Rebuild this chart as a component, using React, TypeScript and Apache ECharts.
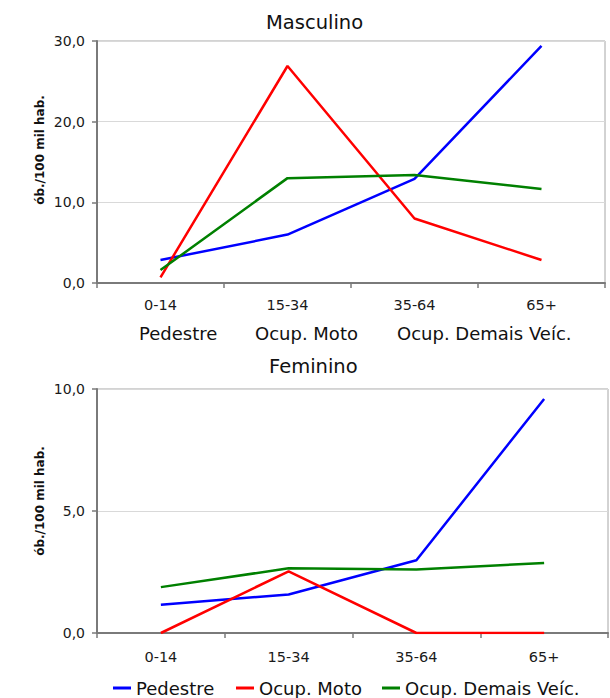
import React, { useEffect, useRef } from "react";
import * as echarts from "echarts";

const categories = ["0-14", "15-34", "35-64", "65+"];
const seriesNames = ["Pedestre", "Ocup. Moto", "Ocup. Demais Veíc."];
const seriesColors = ["#0000ff", "#ff0000", "#008000"];

const malePedestre = [2.85, 6.0, 12.9, 29.4];
const maleMoto = [0.7, 26.9, 8.0, 2.85];
const maleDemais = [1.6, 13.0, 13.4, 11.65];

const femalePedestre = [1.16, 1.58, 2.98, 9.59];
const femaleMoto = [0, 2.53, 0, 0];
const femaleDemais = [1.88, 2.65, 2.6, 2.87];

const maleAxis = { min: 0, max: 30, interval: 10 };
const femaleAxis = { min: 0, max: 10, interval: 5 };

const titles = ["Masculino", "Feminino"];
const yAxisName = "ób./100 mil hab.";

const FONT = "DejaVu Sans";

export default function App() {
  const ref = useRef<HTMLDivElement>(null);

  useEffect(() => {
    if (!ref.current) return;
    const chart = echarts.init(ref.current, undefined, { renderer: "svg" });

    const fmt = (v: number) => v.toFixed(1).replace(".", ",");

    const xAxisBase = (gridIndex: number, margin: number) => ({
      type: "category" as const,
      gridIndex,
      data: categories,
      boundaryGap: true,
      axisLine: { show: true, lineStyle: { color: "#7a7a7a", width: 2 } },
      axisTick: { show: true, alignWithLabel: false, length: 5, lineStyle: { color: "#7a7a7a", width: 1.5 } },
      axisLabel: { margin, fontFamily: FONT, fontSize: 14.5, color: "#1a1a1a" },
      splitLine: { show: false },
    });

    const yAxisBase = (gridIndex: number, ax: { min: number; max: number; interval: number }) => ({
      type: "value" as const,
      gridIndex,
      min: ax.min,
      max: ax.max,
      interval: ax.interval,
      axisLine: { show: true, lineStyle: { color: "#7a7a7a", width: 2 } },
      axisTick: { show: true, length: 5, lineStyle: { color: "#7a7a7a", width: 1.5 } },
      axisLabel: { margin: 12, fontFamily: FONT, fontSize: 14, color: "#1a1a1a", formatter: fmt },
      splitLine: { show: true, lineStyle: { color: "#d9d9d9", width: 1 } },
    });

    const male = [malePedestre, maleMoto, maleDemais];
    const female = [femalePedestre, femaleMoto, femaleDemais];

    const series: any[] = [];
    [male, female].forEach((group, gi) => {
      group.forEach((vals, si) => {
        series.push({
          type: "line",
          name: seriesNames[si],
          xAxisIndex: gi,
          yAxisIndex: gi,
          data: vals,
          symbol: "none",
          showSymbol: false,
          lineStyle: { color: seriesColors[si], width: 2.5 },
          itemStyle: { color: seriesColors[si] },
          z: 3,
        });
      });
    });

    const topRowX = [139, 255, 397];
    const legendX = [113, 236, 382];

    chart.setOption({
      animation: false,
      backgroundColor: "#ffffff",
      title: [
        { text: titles[0], left: 266, top: 12, padding: 0, textStyle: { fontFamily: FONT, fontSize: 19.5, fontWeight: "normal", color: "#111" } },
        { text: titles[1], left: 269, top: 356, padding: 0, textStyle: { fontFamily: FONT, fontSize: 19.5, fontWeight: "normal", color: "#111" } },
      ],
      grid: [
        { left: 97, top: 41, width: 508, height: 242, show: true, borderColor: "#a6a6a6", borderWidth: 1, containLabel: false },
        { left: 97, top: 389, width: 511, height: 244, show: true, borderColor: "#a6a6a6", borderWidth: 1, containLabel: false },
      ],
      xAxis: [xAxisBase(0, 14), xAxisBase(1, 16)],
      yAxis: [yAxisBase(0, maleAxis), yAxisBase(1, femaleAxis)],
      legend: seriesNames.map((n, i) => ({
        data: [n],
        left: legendX[i],
        top: 679,
        icon: "rect",
        itemWidth: 18,
        itemHeight: 3,
        padding: 0,
        textStyle: { fontFamily: FONT, fontSize: 18, color: "#111" },
      })),
      graphic: [
        ...seriesNames.map((n, i) => ({
          type: "text",
          left: topRowX[i],
          top: 324,
          style: { text: n, font: `18px '${FONT}'`, fill: "#111" },
        })),
        {
          type: "text",
          x: 40,
          y: 150,
          rotation: Math.PI / 2,
          style: { text: yAxisName, font: `bold 12px '${FONT}'`, fill: "#111", align: "center", verticalAlign: "middle" },
        },
        {
          type: "text",
          x: 40,
          y: 501,
          rotation: Math.PI / 2,
          style: { text: yAxisName, font: `bold 12px '${FONT}'`, fill: "#111", align: "center", verticalAlign: "middle" },
        },
      ],
      series,
    });

    return () => chart.dispose();
  }, []);

  return (
    <div
      ref={ref}
      style={{ position: "absolute", left: 0, top: 0, width: 610, height: 698 }}
    />
  );
}
